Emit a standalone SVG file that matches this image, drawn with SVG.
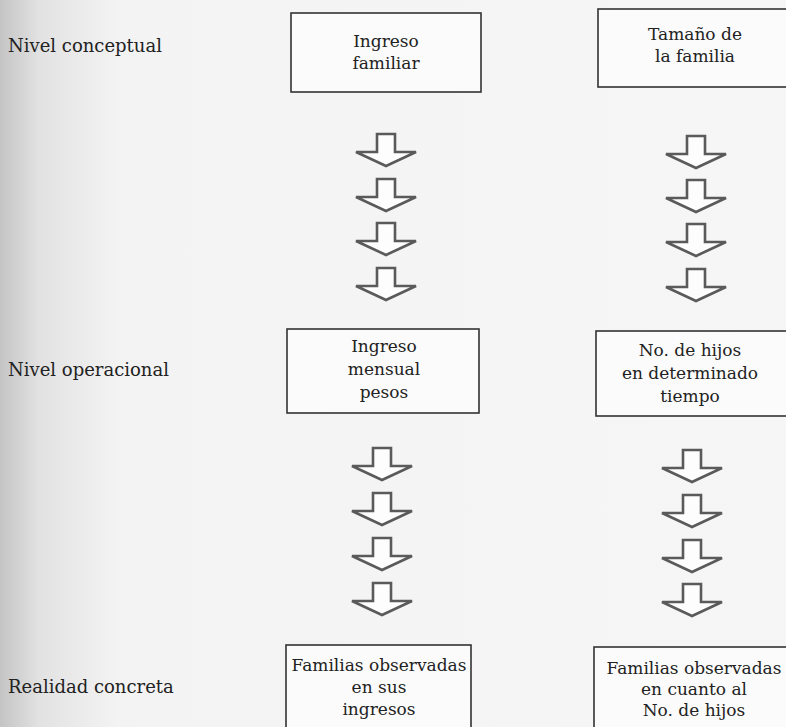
<svg xmlns="http://www.w3.org/2000/svg" width="786" height="727" viewBox="0 0 786 727">
<defs>
<linearGradient id="edge" x1="0" y1="0" x2="1" y2="0">
<stop offset="0" stop-color="#c4c4c4"/>
<stop offset="0.05" stop-color="#e2e2e2"/>
<stop offset="0.15" stop-color="#f3f3f3"/>
<stop offset="1" stop-color="#f6f6f6"/>
</linearGradient>
<path id="arr" d="M-9,0 L9,0 L9,18 L30,18 L0,32 L-30,18 L-9,18 Z"/>
<style>
text{font-family:'DejaVu Serif',serif;font-size:17px;fill:#222}
.lbl{font-size:18px}
.t{text-anchor:middle}
.box{fill:#fbfbfb;stroke:#333;stroke-width:1.6}
.a{fill:#fdfdfd;stroke:#5a5a5a;stroke-width:2.6;stroke-linejoin:miter}
</style>
</defs>
<rect x="0" y="0" width="786" height="727" fill="url(#edge)"/>

<g id="labels">
<text class="lbl" x="8" y="52">Nivel conceptual</text>
<text class="lbl" x="8" y="376">Nivel operacional</text>
<text class="lbl" x="8" y="693">Realidad concreta</text>
</g>

<g id="connectors">
<use href="#arr" class="a" x="386" y="134"/>
<use href="#arr" class="a" x="386" y="179"/>
<use href="#arr" class="a" x="386" y="223"/>
<use href="#arr" class="a" x="386" y="268"/>
<use href="#arr" class="a" x="696" y="136"/>
<use href="#arr" class="a" x="696" y="180"/>
<use href="#arr" class="a" x="696" y="224"/>
<use href="#arr" class="a" x="696" y="269"/>
<use href="#arr" class="a" x="382" y="448"/>
<use href="#arr" class="a" x="382" y="493"/>
<use href="#arr" class="a" x="382" y="538"/>
<use href="#arr" class="a" x="382" y="583"/>
<use href="#arr" class="a" x="692" y="450"/>
<use href="#arr" class="a" x="692" y="495"/>
<use href="#arr" class="a" x="692" y="540"/>
<use href="#arr" class="a" x="692" y="584"/>
</g>

<g id="n1">
<rect class="box" x="291" y="13" width="190" height="79"/>
<text class="t" x="386" y="47">Ingreso</text>
<text class="t" x="386" y="69">familiar</text>
</g>
<g id="n2">
<rect class="box" x="598" y="9" width="192" height="78"/>
<text class="t" x="695" y="40">Tamaño de</text>
<text class="t" x="695" y="62">la familia</text>
</g>
<g id="n3">
<rect class="box" x="287" y="329" width="192" height="84"/>
<text class="t" x="384" y="352">Ingreso</text>
<text class="t" x="384" y="375">mensual</text>
<text class="t" x="384" y="398">pesos</text>
</g>
<g id="n4">
<rect class="box" x="596" y="331" width="194" height="85"/>
<text class="t" x="690" y="356">No. de hijos</text>
<text class="t" x="690" y="379">en determinado</text>
<text class="t" x="690" y="402">tiempo</text>
</g>
<g id="n5">
<rect class="box" x="286" y="645" width="185" height="90"/>
<text class="t" x="379" y="671">Familias observadas</text>
<text class="t" x="379" y="693">en sus</text>
<text class="t" x="379" y="715">ingresos</text>
</g>
<g id="n6">
<rect class="box" x="594" y="647" width="196" height="90"/>
<text class="t" x="694" y="674">Familias observadas</text>
<text class="t" x="694" y="695">en cuanto al</text>
<text class="t" x="694" y="716">No. de hijos</text>
</g>
</svg>
